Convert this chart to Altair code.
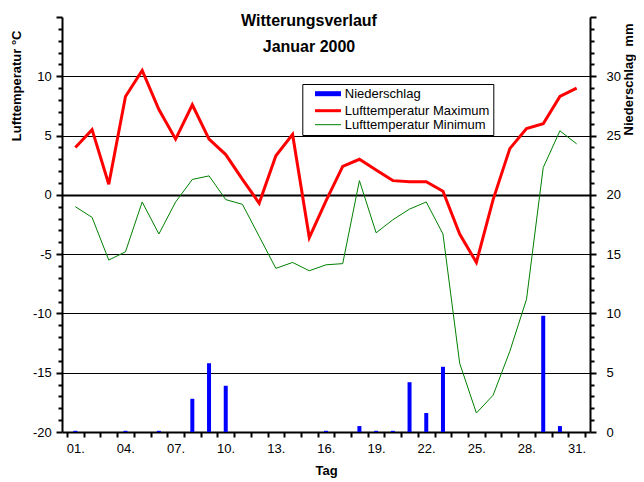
import altair as alt
import pandas as pd

# ---- data ----
days = list(range(1, 32))
t_max = [4.0, 5.5, 0.9, 8.3, 10.5, 7.2, 4.7, 7.6, 4.7, 3.4, 1.3, -0.7, 3.3, 5.1, -3.6,
         -0.5, 2.4, 3.0, 2.1, 1.2, 1.1, 1.1, 0.3, -3.3, -5.7, -0.4, 3.9, 5.6, 6.0, 8.3, 9.0]
t_min = [-1.0, -1.9, -5.5, -4.8, -0.6, -3.3, -0.6, 1.3, 1.6, -0.4, -0.8, -3.5, -6.2, -5.7, -6.4,
         -5.9, -5.8, 1.2, -3.2, -2.1, -1.2, -0.6, -3.3, -14.2, -18.4, -16.9, -13.2, -8.8, 2.3, 5.4, 4.3]
precip = [0.1, 0, 0, 0.1, 0, 0.1, 0, 2.8, 5.8, 3.9, 0, 0, 0, 0, 0,
          0.1, 0, 0.5, 0.1, 0.1, 4.2, 1.6, 5.5, 0, 0, 0, 0, 0, 9.8, 0.5, 0]
series_names = ["Niederschlag", "Lufttemperatur Maximum", "Lufttemperatur Minimum"]
series_colors = ["#0000ff", "#ff0000", "#008000"]
series_widths = [5, 3, 1]
x_tick_values = [d - 0.5 for d in range(1, 33)]
temp_ticks = list(range(-20, 16))
precip_ticks = list(range(0, 36))
title_lines = ["Witterungsverlauf", "Januar 2000"]

FONT = "Liberation Sans"

temp_df = pd.DataFrame({
    "day": days * 2,
    "value": t_max + t_min,
    "series": [series_names[1]] * len(days) + [series_names[2]] * len(days),
})
precip_df = pd.DataFrame({"day": days, "mm": precip})

x_scale = alt.Scale(domain=[0.5, 31.5], nice=False, zero=False)
x_axis = alt.Axis(
    values=x_tick_values,
    labelExpr="((datum.value - 0.5) % 3 == 1) ? ((datum.value < 10 ? '0' : '') + (datum.value - 0.5) + '.') : ''",
    labelOffset=-8.5, labelFlush=False, labelOverlap=False, labelPadding=5,
    labelFontSize=13, tickSize=5, tickWidth=2, domainWidth=2, grid=False,
    title="Tag", titleFontSize=13, titleFontWeight="bold", titlePadding=9,
)

left_axis = alt.Axis(
    values=temp_ticks,
    labelExpr="(datum.value % 5 == 0 && datum.value < 15) ? ('' + datum.value) : ''",
    labelFontSize=13, labelPadding=4.7, labelOverlap=False, labelFlush=False,
    tickSize={"condition": {"test": "datum.value % 5 == 0", "value": 6}, "value": 4},
    tickWidth=2, domainWidth=2,
    grid=True, gridColor="black",
    gridOpacity={"condition": {"test": "datum.value % 5 == 0 && datum.value > -20 && datum.value < 15", "value": 1}, "value": 0},
    gridWidth={"condition": {"test": "datum.value == 0", "value": 2}, "value": 1},
    title="Lufttemperatur °C", titleFontSize=13, titleFontWeight="bold",
    titleAngle=270, titleAlign="right", titleBaseline="middle", titleX=-46, titleY=13,
)

right_axis = alt.Axis(
    orient="right",
    values=precip_ticks,
    labelExpr="(datum.value % 5 == 0 && datum.value < 35) ? ('' + datum.value) : ''",
    labelFontSize=13, labelPadding=10, labelOverlap=False, labelFlush=False,
    tickSize={"condition": {"test": "datum.value % 5 == 0", "value": 6}, "value": 4},
    tickWidth=2, domainWidth=2, grid=False,
    title="Niederschlag\u00a0\u00a0mm", titleFontSize=13, titleFontWeight="bold",
    titleAngle=270, titleAlign="right", titleBaseline="middle", titleX=38, titleY=6,
)

legend = alt.Legend(
    title=None, orient="none", legendX=240.3, legendY=67, direction="vertical",
    symbolType="M-26,0H26", symbolSize=1, labelFontSize=13, labelFont=FONT,
    labelColor="black", labelOffset=10.3, symbolOffset=16, padding=3.2,
    rowPadding=0, strokeColor="black", fillColor="white", labelLimit=400,
    labelExpr="datum.label + '\u00a0'",
)

bars = alt.Chart(precip_df).mark_bar(size=4, color="#0000ff").encode(
    x=alt.X("day:Q", scale=x_scale, axis=x_axis),
    y=alt.Y("mm:Q", scale=alt.Scale(domain=[0, 35], nice=False, zero=True), axis=right_axis),
)

lines = alt.Chart(temp_df).mark_line().encode(
    x=alt.X("day:Q", scale=x_scale, axis=x_axis),
    y=alt.Y("value:Q", scale=alt.Scale(domain=[-20, 15], nice=False, zero=False), axis=left_axis),
    color=alt.Color("series:N", scale=alt.Scale(domain=series_names, range=series_colors), legend=legend),
    strokeWidth=alt.StrokeWidth("series:N", scale=alt.Scale(type="ordinal", domain=series_names, range=series_widths), legend=legend),
)

chart = alt.layer(bars, lines).resolve_scale(y="independent").properties(
    width=528, height=415,
    autosize=alt.AutoSizeParams(type="none"),
    padding={"left": 54, "top": 9, "right": 46, "bottom": 50},
    title=alt.TitleParams(
        text=title_lines, fontSize=16, fontWeight="bold", font=FONT, color="black",
        lineHeight=26, anchor="middle", dx=-17, offset=-44, baseline="top", frame="group",
    ),
).configure(font=FONT).configure_view(strokeWidth=0).configure_axis(
    labelFont=FONT, titleFont=FONT, labelColor="black", titleColor="black",
    domainColor="black", tickColor="black",
)

chart.save("out.html", embed_options={"renderer": "svg", "actions": False})
